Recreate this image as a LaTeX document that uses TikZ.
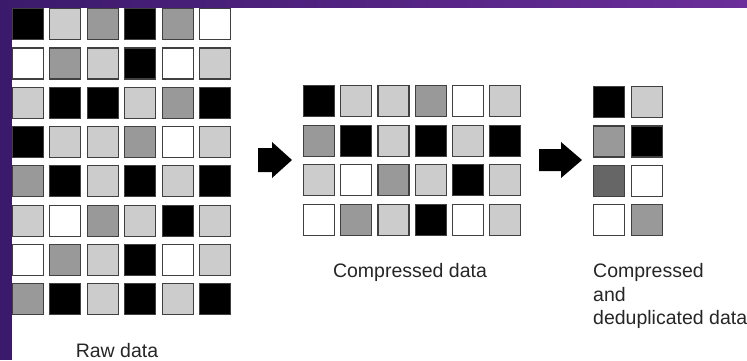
\documentclass[tikz,border=0pt]{standalone}
\usepackage{fontspec}
\setmainfont{Liberation Sans}
\usetikzlibrary{positioning}

\definecolor{cellB}{HTML}{000000}
\definecolor{cellL}{HTML}{CCCCCC}
\definecolor{cellM}{HTML}{999999}
\definecolor{cellD}{HTML}{666666}
\definecolor{cellW}{HTML}{FFFFFF}
\definecolor{cellEdge}{HTML}{404040}
\definecolor{bandDark}{HTML}{3B1A6B}
\definecolor{bandLight}{HTML}{6B2E9A}

\begin{document}
\begin{tikzpicture}[
  x=1pt, y=-1pt,
  font=\fontsize{19.5}{23.5}\selectfont,
  cell/.style={draw=cellEdge, line width=1.2pt, minimum size=31pt,
               inner sep=0pt, anchor=north west},
  lbl/.style={text=black!85, inner sep=0pt},
]
\useasboundingbox (0,0) rectangle (747,360);
\fill[white] (0,0) rectangle (747,360);

% raw data, 8 rows of 6
\foreach \row [count=\r] in {{B,L,M,B,M,W},{W,M,L,B,W,L},{L,B,B,L,M,B},{B,L,L,M,W,L},
                             {M,B,L,B,L,B},{L,W,M,L,B,L},{W,M,L,B,W,L},{M,B,L,B,L,B}}
  \foreach \c [count=\k] in \row
    \node[cell, fill=cell\c] (raw-\r-\k) at ({11.5+(\k-1)*37.5}, {8+(\r-1)*39.3}) {};
\node[lbl, anchor=base] (rawlbl) at (117,357) {Raw data};

% compressed data, 4 rows of 6
\foreach \row [count=\r] in {{B,L,L,M,W,L},{M,B,L,B,L,B},{L,W,M,L,B,L},{W,M,L,B,W,L}}
  \foreach \c [count=\k] in \row
    \node[cell, fill=cell\c] (cmp-\r-\k) at ({303+(\k-1)*37.2}, {85+(\r-1)*39.6}) {};
\node[lbl, anchor=base] (cmplbl) at (410,277) {Compressed data};

% compressed + deduplicated, 4 rows of 2
\foreach \row [count=\r] in {{B,L},{M,B},{D,W},{W,M}}
  \foreach \c [count=\k] in \row
    \node[cell, fill=cell\c] (ddp-\r-\k) at ({593+(\k-1)*38}, {86+(\r-1)*39.4}) {};
\node[lbl, anchor=north west, align=left] (ddplbl) at (593,263.5)
  {Compressed\\and\\deduplicated data};

% block arrows between the stages
\coordinate (arr1) at (258,160);
\coordinate (arr2) at (539,160);
\fill (arr1) ++(0,-12) -- ++(14,0) -- ++(0,-6) -- ++(20,18)
      -- ++(-20,18) -- ++(0,-6) -- ++(-14,0) -- cycle;
\fill (arr2) ++(0,-11) -- ++(22,0) -- ++(0,-7) -- ++(21,18)
      -- ++(-21,18) -- ++(0,-7) -- ++(-22,0) -- cycle;

% slide frame
\fill[bandDark] (0,0) rectangle (12,360);
\shade[left color=bandDark, right color=bandLight] (0,0) rectangle (747,7);
\end{tikzpicture}
\end{document}
